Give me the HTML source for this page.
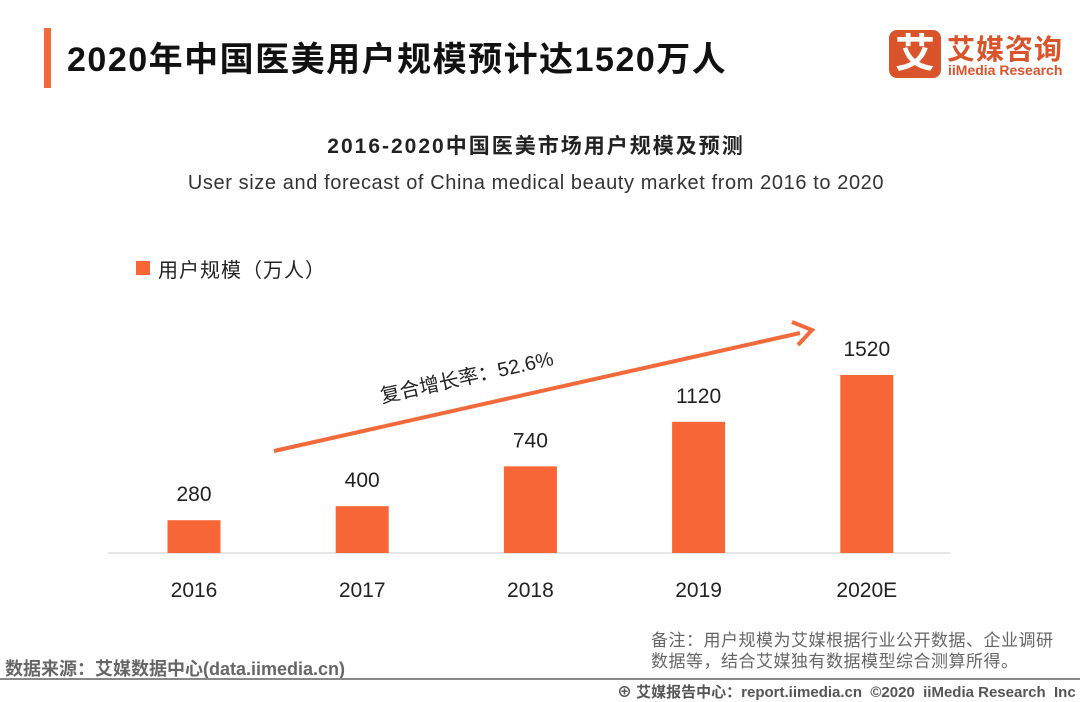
<!DOCTYPE html>
<html><head><meta charset="utf-8"><style>
body{margin:0;width:1080px;height:702px;background:#fff;position:relative;overflow:hidden;font-family:"Liberation Sans","Noto Sans CJK SC",sans-serif;color:#222}
.a{position:absolute;white-space:nowrap}
</style></head><body>
<div class="a" style="left:44px;top:28px;width:7px;height:60px;background:#f26a3c"></div>
<div class="a" style="left:67px;top:32px;font-size:34px;font-weight:bold;color:#111;letter-spacing:1.5px">2020年中国医美用户规模预计达1520万人</div>
<div class="a" style="left:889px;top:30px;width:52px;height:48px;background:#d9532b;border-radius:8px;color:#fff;font-size:40px;font-weight:bold;text-align:center;line-height:48px">艾</div>
<div class="a" style="left:947px;top:28px;font-size:28px;font-weight:bold;color:#d9532b;letter-spacing:1px">艾媒咨询</div>
<div class="a" style="left:948px;top:62px;font-size:14px;color:#d9532b;font-weight:bold">iiMedia Research</div>
<div class="a" style="left:0;width:1072px;text-align:center;top:130px;font-size:21px;font-weight:bold;color:#222;letter-spacing:2px">2016-2020中国医美市场用户规模及预测</div>
<div class="a" style="left:0;width:1072px;text-align:center;top:172px;font-size:20px;color:#333;letter-spacing:0.6px">User size and forecast of China medical beauty market from 2016 to 2020</div>
<div class="a" style="left:136px;top:261px;width:14px;height:14px;background:#f76636"></div>
<div class="a" style="left:158px;top:254px;font-size:20px;color:#222;letter-spacing:1px">用户规模（万人）</div>
<svg class="a" style="left:0;top:0" width="1080" height="702" id="chart"></svg>
<div class="a" style="left:5px;top:655px;font-size:18px;font-weight:bold;color:#666">数据来源：艾媒数据中心(data.iimedia.cn)</div>
<div class="a" style="left:651px;top:630px;font-size:17px;color:#666;line-height:21px;letter-spacing:0.5px">备注：用户规模为艾媒根据行业公开数据、企业调研<br>数据等，结合艾媒独有数据模型综合测算所得。</div>
<div class="a" style="left:0;top:678px;width:1080px;height:2px;background:#888"></div>
<div class="a" style="left:617px;top:681px;font-size:15px;color:#555;font-weight:bold">⊕ 艾媒报告中心：report.iimedia.cn &nbsp;©2020 &nbsp;iiMedia Research &nbsp;Inc</div>
<script>
const categories=["2016","2017","2018","2019","2020E"];
const values=[280,400,740,1120,1520];
const valueLabels=["280","400","740","1120","1520"];
const NS="http://www.w3.org/2000/svg";
const svg=document.getElementById('chart');
const base=553, scale=178/1520;
const x=i=>194+i*168.2, y=v=>base-v*scale;
function mk(t,a){const e=document.createElementNS(NS,t);for(const k in a)e.setAttribute(k,a[k]);svg.appendChild(e);return e;}
const ax=mk('line',{x1:108,y1:base,x2:950,y2:base,stroke:'#ddd','stroke-width':1.5});


values.forEach((v,i)=>{
 const r=mk('rect',{x:x(i)-26.5,y:y(v),width:53,height:v*scale,fill:'#f76636'});
 
 
 const t=mk('text',{x:x(i),y:y(v)-19,'text-anchor':'middle','font-size':21,fill:'#222'});
 t.textContent=valueLabels[i];
 
 
 const c=mk('text',{x:x(i),y:597,'text-anchor':'middle','font-size':21,fill:'#222'});
 c.textContent=categories[i];
 
 
});
const ar=mk('line',{x1:274,y1:451,x2:800,y2:333,stroke:'#f26a3c','stroke-width':4});


const ah=mk('polyline',{points:'792,322 812,330 798,345',fill:'none',stroke:'#f26a3c','stroke-width':4});


const g=mk('text',{x:0,y:0,'font-size':20,fill:'#222',transform:'translate(382,403) rotate(-12.5)'});
g.textContent='复合增长率：52.6%';


</script>
</body></html>
